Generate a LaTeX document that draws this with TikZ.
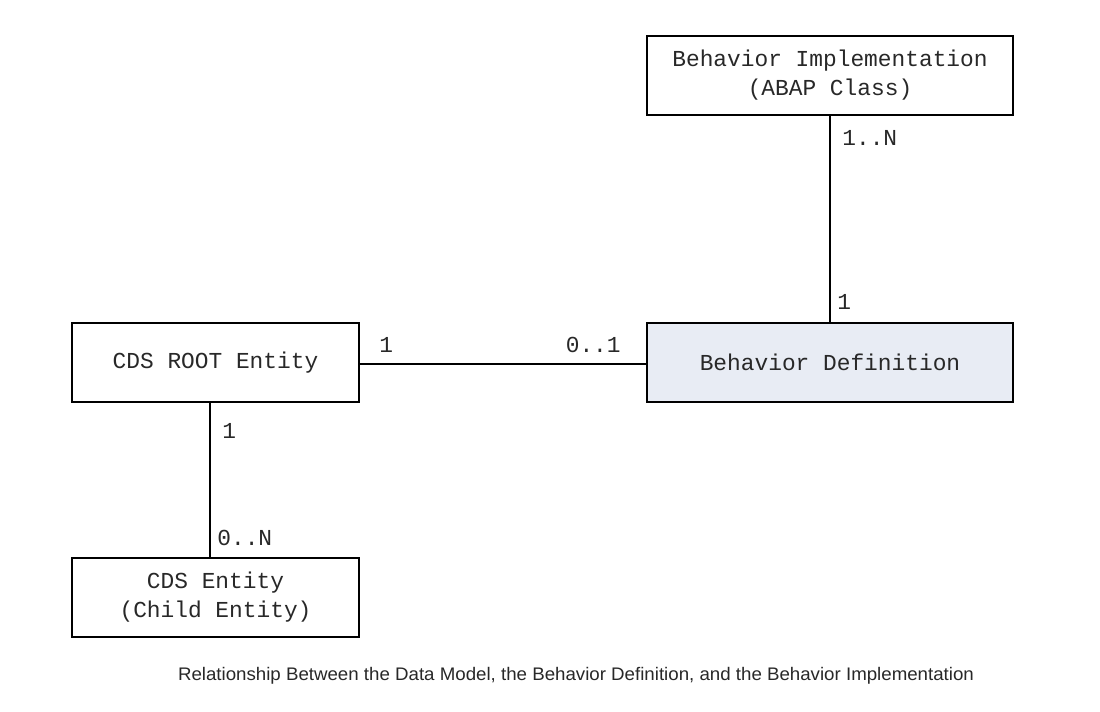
\documentclass[tikz,border=0pt]{standalone}
\usepackage{fontspec}
\setmainfont{Liberation Sans}
\newfontfamily\codefont{Liberation Mono}
\definecolor{bdfill}{RGB}{232,236,244}
\definecolor{txtgray}{RGB}{40,40,40}
\begin{document}
\begin{tikzpicture}[x=0.02cm,y=-0.02cm,
  entity/.style={draw=black,line width=1.6pt,fill=white,inner sep=0pt,align=center,
    font=\codefont\fontsize{13pt}{16.6pt}\selectfont,text=txtgray},
  card/.style={inner sep=0pt,font=\codefont\fontsize{13pt}{16pt}\selectfont,text=txtgray},
  link/.style={draw=black,line width=0.8pt}]
\useasboundingbox (0,0) rectangle (1100,712);
\fill[white] (0,0) rectangle (1100,712);
\node[entity,minimum width=7.32cm,minimum height=1.58cm] (bi) at (830,75.5) {Behavior Implementation\\(ABAP Class)};
\node[entity,fill=bdfill,minimum width=7.32cm,minimum height=1.58cm] (bd) at (830,362.5) {Behavior Definition};
\node[entity,minimum width=5.74cm,minimum height=1.58cm] (root) at (215.5,362.5) {CDS ROOT Entity};
\node[entity,minimum width=5.74cm,minimum height=1.58cm] (child) at (215.5,597.5) {CDS Entity\\(Child Entity)};
\draw[link] (bi.south) -- (bd.north);
\draw[link] ([yshift=-0.03cm]root.east) -- ([yshift=-0.03cm]bd.west);
\draw[link] ([xshift=-0.11cm]root.south) -- ([xshift=-0.11cm]child.north);
\node[card,anchor=west] (l1) at (842,138) {1..N};
\node[card,anchor=west] (l2) at (837,302) {1};
\node[card,anchor=west] (l3) at (379,345) {1};
\node[card,anchor=east] (l4) at (621,345) {0..1};
\node[card,anchor=west] (l5) at (222,431) {1};
\node[card,anchor=west] (l6) at (217,538) {0..N};
\node[inner sep=0pt,text=txtgray,anchor=base] (cap) at (576,681) {\resizebox{453pt}{7.5pt}{\fontsize{10pt}{12pt}\selectfont Relationship Between the Data Model, the Behavior Definition, and the Behavior Implementation}};
\end{tikzpicture}
\end{document}
